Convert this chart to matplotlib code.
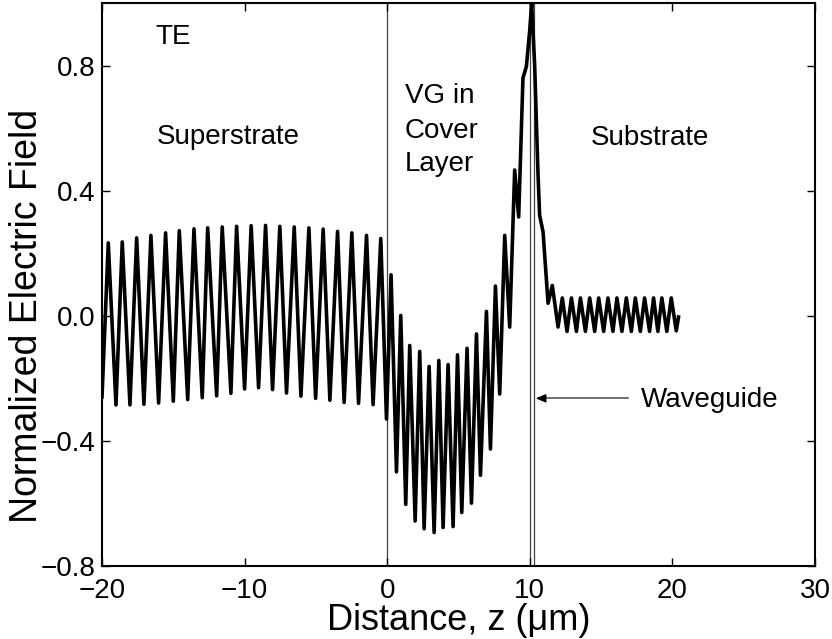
import matplotlib
matplotlib.use("Agg")
import matplotlib.pyplot as plt

plt.rcParams['font.family'] = ['Liberation Sans', 'DejaVu Sans']

# Field profile: extrema (z in um, normalized E)
z_um = [-20.00, -19.56, -19.02, -18.58, -18.04, -17.57, -17.06, -16.57, -16.03,
        -15.54, -15.00, -14.58, -13.99, -13.55, -12.97, -12.59, -11.96, -11.57,
        -10.96, -10.56, -10.00, -9.54, -9.02, -8.53, -8.04, -7.53, -7.06, -6.52,
        -6.05, -5.49, -5.02, -4.49, -4.02, -3.48, -3.02, -2.48, -2.01, -1.45,
        -0.99, -0.45, -0.05, 0.27, 0.65, 0.95, 1.30, 1.58, 1.96, 2.28, 2.59,
        2.94, 3.29, 3.62, 3.92, 4.27, 4.62, 4.93, 5.23, 5.60, 5.91, 6.26, 6.54,
        6.96, 7.24, 7.59, 7.89, 8.24, 8.59, 8.94, 9.22, 9.52, 9.76, 9.99, 10.13,
        10.34, 10.57, 10.69, 10.93, 11.28, 11.58, 11.98, 12.28, 12.61, 12.92,
        13.27, 13.55, 13.90, 14.20, 14.55, 14.83, 15.18, 15.48, 15.83, 16.11,
        16.46, 16.77, 17.12, 17.40, 17.75, 18.05, 18.40, 18.68, 18.98, 19.26,
        19.61, 19.92, 20.27, 20.43]
e_field = [-0.26, 0.233, -0.285, 0.236, -0.285, 0.249, -0.283, 0.257, -0.279,
           0.265, -0.273, 0.272, -0.268, 0.278, -0.262, 0.281, -0.256, 0.284,
           -0.248, 0.286, -0.234, 0.288, -0.230, 0.289, -0.236, 0.286, -0.247,
           0.284, -0.257, 0.281, -0.264, 0.277, -0.270, 0.270, -0.277, 0.265,
           -0.280, 0.257, -0.284, 0.247, -0.330, 0.131, -0.499, 0.001, -0.603,
           -0.095, -0.656, -0.114, -0.681, -0.162, -0.693, -0.143, -0.677,
           -0.156, -0.674, -0.125, -0.629, -0.104, -0.599, -0.058, -0.510, 0.014,
           -0.426, 0.095, -0.250, 0.257, -0.036, 0.466, 0.316, 0.76, 0.797, 0.91,
           1.0, 0.802, 0.46, 0.321, 0.268, 0.04, 0.097, -0.036, 0.057, -0.050,
           0.057, -0.050, 0.057, -0.050, 0.057, -0.050, 0.057, -0.050, 0.057,
           -0.050, 0.057, -0.050, 0.057, -0.050, 0.057, -0.050, 0.057, -0.050,
           0.057, -0.050, 0.057, -0.050, 0.057, -0.048, -0.004]

boundaries = [0.0, 10.0, 10.3]
x_ticks = [-20, -10, 0, 10, 20, 30]
y_ticks = [-0.8, -0.4, 0.0, 0.4, 0.8]

fig = plt.figure(figsize=(8.32, 6.39), dpi=100)
ax = fig.add_axes([102/832, 1-566/639, (815-102)/832, (566-3)/639])

for b in boundaries:
    ax.axvline(b, color='#444444', lw=0.9, zorder=1)

ax.plot(z_um, e_field, color='black', lw=2.6, solid_joinstyle='round', zorder=3)

ax.set_xlim(-20, 30)
ax.set_ylim(-0.8, 1.0)
ax.set_xticks(x_ticks)
ax.set_xticklabels([f"\u2212{abs(t)}" if t < 0 else f"{t}" for t in x_ticks])
ax.set_yticks(y_ticks)
ax.set_yticklabels([f"\u2212{abs(t):.1f}" if t < 0 else f"{t:.1f}" for t in y_ticks])
ax.tick_params(direction='in', length=6, width=1.0, labelsize=20,
               top=True, right=True)
ax.tick_params(axis='x', pad=9)
ax.tick_params(axis='y', pad=5)
for s in ax.spines.values():
    s.set_linewidth(1.5)

ax.set_xlabel("Distance, z (\u03bcm)", fontsize=26, labelpad=-1)
ax.set_ylabel("Normalized Electric Field", fontsize=27)
ax.yaxis.set_label_coords(-0.080, 0.444)

fs = 20
ax.text(-16.29, 0.869, "TE", fontsize=fs, ha='left', va='baseline')
ax.text(-16.17, 0.548, "Superstrate", fontsize=fs, ha='left', va='baseline')
ax.text(1.23, 0.679, "VG in", fontsize=fs, ha='left', va='baseline')
ax.text(1.23, 0.567, "Cover", fontsize=fs, ha='left', va='baseline')
ax.text(1.23, 0.462, "Layer", fontsize=fs, ha='left', va='baseline')
ax.text(14.25, 0.546, "Substrate", fontsize=fs, ha='left', va='baseline')
ax.text(17.82, -0.293, "Waveguide", fontsize=fs, ha='left', va='baseline')

# arrow pointing at the waveguide
ax.plot([10.9, 16.86], [-0.264, -0.264], color='#555555', lw=1.2)
ax.annotate("", xy=(10.41, -0.264), xytext=(11.0, -0.264),
            arrowprops=dict(arrowstyle='-|>,head_length=0.6,head_width=0.25',
                            color='black', lw=1.0, shrinkA=0, shrinkB=0))

fig.savefig("out.png", dpi=100)
